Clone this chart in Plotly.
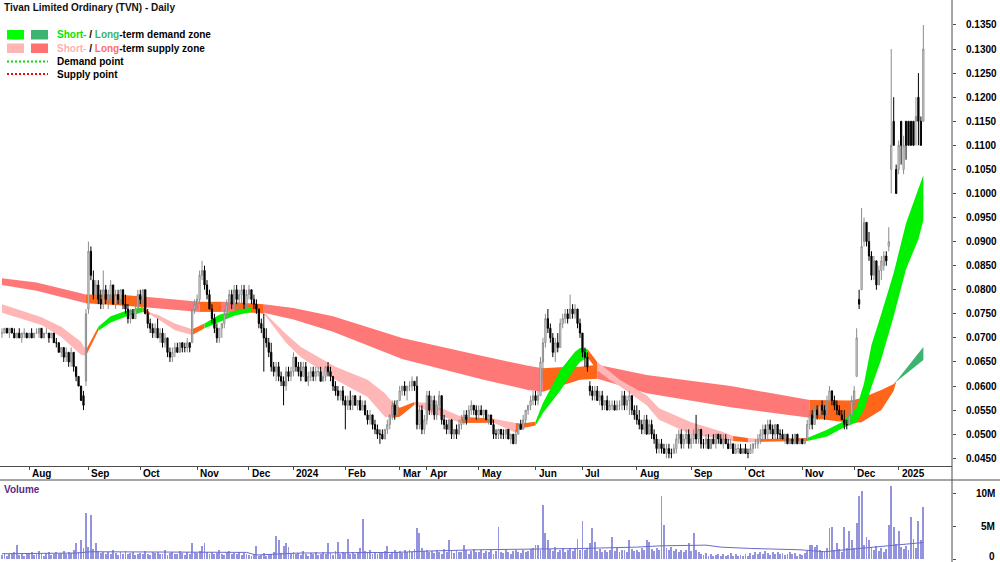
import plotly.graph_objects as go

TITLE = "Tivan Limited Ordinary (TVN) - Daily"
MONTH_LABELS = ["Aug", "Sep", "Oct", "Nov", "Dec", "2024", "Feb", "Mar", "Apr", "May",
                "Jun", "Jul", "Aug", "Sep", "Oct", "Nov", "Dec", "2025"]
PRICE_TICKS = [0.045, 0.050, 0.055, 0.060, 0.065, 0.070, 0.075, 0.080, 0.085, 0.090,
               0.095, 0.100, 0.105, 0.110, 0.115, 0.120, 0.125, 0.130, 0.135]
VOL_TICKS = [0, 5, 10]
VOL_TICK_TEXT = ["0", "5M", "10M"]

# Daily bars, (open, high, low, close) in thousandths of a dollar
JUL23 = [(71,72,70,71),(71,72,71,72),(72,72,71,71),(71,72,70,72),(72,72,71,71),(71,72,70,70),
         (70,71,70,71),(71,72,70,70),(70,71,69,71),(71,72,70,71),(71,71,70,70)]
AUG23 = [(70,71,70,71),(71,72,70,70),(70,71,70,71),(71,72,71,71),(71,72,70,72),(72,72,70,70),
         (70,71,70,71),(71,72,71,71),(71,71,69,70),(70,71,70,71),(71,71,69,69),(69,70,68,69),
         (69,69,67,67),(67,68,66,68),(68,68,65,66),(66,68,65,67),(67,67,64,65),(65,68,64,67),
         (67,67,63,64),(64,64,61,62),(62,62,60,60),(60,60,57,57),(58,59,55,56),(61,76,60,75)]
SEP23 = [(76,90,75,88),(88,89,82,83),(82,84,78,79),(79,82,77,81),(81,82,77,78),(78,80,76,77),
         (77,84,76,80),(80,81,77,78),(78,80,76,79),(79,82,78,81),(81,81,77,77),(77,80,76,79),
         (79,80,77,78),(78,80,77,80),(80,80,76,77),(77,79,75,76),(76,77,73,74),(74,76,73,75),
         (75,76,74,74),(74,77,74,76),(76,80,75,79)]
OCT23 = [(79,80,77,78),(78,80,77,80),(80,80,75,75),(75,76,72,73),(73,74,71,72),(72,73,70,71),
         (71,73,70,72),(72,74,70,70),(70,72,69,71),(71,72,68,69),(69,71,68,70),(70,70,66,67),
         (67,68,65,66),(66,68,65,67),(67,69,66,68),(68,69,67,67),(67,69,67,69),(69,69,67,68),
         (68,69,67,68),(68,70,67,69),(69,69,67,68),(69,76,69,76),(76,78,75,77)]
NOV23 = [(77,79,76,78),(78,84,77,83),(83,86,82,84),(84,85,80,81),(81,82,78,79),(79,80,76,76),
         (76,77,73,74),(74,75,71,72),(72,73,69,70),(70,72,69,72),(72,73,70,73),(73,76,72,75),
         (75,78,74,77),(77,80,76,79),(79,80,76,77),(77,81,76,80),(80,81,77,78),(78,80,76,79),
         (79,81,77,80),(80,81,76,77),(77,80,76,79)]
DEC23 = [(79,81,78,80),(80,80,77,78),(78,79,76,77),(77,78,75,76),(76,76,72,73),(73,74,71,72),
         (72,75,63,70),(70,72,68,69),(69,70,66,67),(67,69,63,64),(64,65,62,63),(63,65,61,64),
         (64,65,61,62),(62,63,60,61),(61,62,56,60),(60,64,59,63),(63,64,61,62),(62,64,61,63)]
JAN24 = [(63,67,62,66),(66,66,63,64),(64,65,62,63),(63,65,61,62),(62,65,62,64),(64,65,61,61),
         (61,63,60,62),(62,64,61,63),(63,64,61,62),(62,64,61,63),(63,64,62,63),(63,64,61,61),
         (61,63,61,62),(62,64,61,64),(64,65,62,63),(63,64,61,62),(62,62,59,60),(60,61,58,59),
         (59,60,57,58),(58,59,57,59),(59,60,56,57)]
FEB24 = [(57,58,51,56),(56,58,55,57),(57,59,55,56),(56,58,55,58),(58,58,56,56),(56,57,55,57),
         (57,58,55,55),(55,57,55,56),(56,57,54,54),(54,55,52,53),(53,55,52,54),(54,54,51,52),
         (52,53,50,51),(51,52,49,50),(50,51,48,50),(50,51,49,49),(49,51,49,51),(51,53,50,52),
         (52,54,51,54),(54,57,53,56),(56,57,53,54),(54,57,54,57)]
MAR24 = [(57,60,57,59),(59,60,58,60),(60,61,58,59),(59,60,57,60),(60,61,59,60),(60,62,59,61),
         (61,61,59,60),(60,62,51,52),(52,56,51,55),(55,56,50,51),(51,54,50,53)]
APR24 = [(53,59,52,58),(58,59,54,55),(55,58,54,57),(57,58,53,54),(54,57,53,56),(56,59,55,58),
         (58,58,52,53),(53,54,51,52),(52,53,50,51),(51,53,50,53),(53,53,49,50),(50,51,49,51),
         (51,52,49,50),(50,53,50,52),(52,54,51,53),(53,55,52,54),(54,55,52,53),(53,56,53,55),
         (55,57,54,56),(56,56,54,55),(55,56,53,54)]
MAY24 = [(54,56,53,55),(55,56,54,54),(54,55,53,55),(55,55,53,53),(53,54,52,54),(54,54,52,52),
         (52,53,49,50),(50,51,49,50),(50,51,49,51),(51,51,49,50),(50,51,49,50),(50,51,49,51),
         (51,51,49,49),(49,50,48,50),(50,50,48,48),(48,51,48,50),(50,52,50,52),(52,53,51,51),
         (51,54,51,53),(53,55,52,55),(55,56,54,56),(56,58,55,57),(57,59,56,58)]
JUN24 = [(58,59,56,57),(57,59,56,58),(58,66,58,65),(65,70,61,69),(69,75,68,74),(74,76,71,72),
         (72,73,69,70),(70,71,66,67),(67,70,65,69),(69,71,67,68),(68,74,68,73),(73,75,72,74),
         (74,76,73,75),(75,76,73,74),(74,79,74,76),(76,77,74,75),(75,77,74,76),(76,76,72,73),
         (73,74,70,71)]
JUL24 = [(71,71,66,67),(67,68,64,66),(66,67,63,64),(60,61,58,59),(59,60,57,58),(58,60,57,59),
         (59,60,57,57),(57,59,56,58),(58,59,55,56),(56,57,55,57),(57,58,55,55),(55,57,55,56),
         (56,57,55,56),(56,57,55,55),(55,57,55,56),(56,57,55,56),(56,59,55,58),(58,59,55,56),
         (56,58,55,57),(57,59,54,58),(58,58,54,55),(55,56,53,54)]
AUG24 = [(54,56,52,53),(53,55,51,52),(52,53,50,51),(51,54,50,53),(53,54,50,50),(50,53,50,52),
         (52,53,49,50),(50,51,48,49),(49,50,46,47),(47,49,46,48),(48,49,46,47),(47,48,46,46),
         (46,48,45,47),(47,48,45,46),(46,47,45,46),(46,48,46,47),(47,50,46,49),(49,51,48,50),
         (50,51,47,48),(48,50,47,49),(49,51,48,50),(50,51,47,48)]
SEP24 = [(48,50,47,49),(49,51,48,50),(50,54,48,49),(49,51,48,51),(51,51,47,48),(48,49,47,48),
         (48,50,47,49),(49,50,47,47),(47,49,47,49),(49,50,48,48),(48,50,47,50),(50,50,48,49),
         (49,50,48,48),(48,50,47,49),(49,50,48,48),(48,49,47,47),(47,49,47,48),(48,48,46,46),
         (46,48,46,47),(47,48,46,47),(47,48,46,46),(46,47,46,47)]
OCT24 = [(47,48,46,46),(46,47,45,46),(46,48,46,47),(47,48,46,48),(48,49,47,48),(48,50,47,49),
         (49,51,48,50),(50,52,49,51),(51,52,49,50),(50,53,49,52),(52,53,50,51),(51,52,49,50),
         (50,52,49,52),(52,52,49,50),(50,51,49,50),(50,51,49,49),(49,50,48,50),(50,50,48,48),
         (48,49,48,49),(49,50,48,48),(48,50,48,50),(50,50,48,48),(48,49,48,49)]
NOV24 = [(49,49,48,48),(48,49,48,49),(49,53,49,52),(52,55,51,54),(54,55,51,52),(52,56,52,55),
         (55,56,53,54),(54,57,53,56),(56,57,54,55),(55,56,53,54),(54,58,54,57),(57,60,56,59),
         (59,59,56,57),(57,58,55,56),(56,57,54,55),(55,56,54,54),(54,55,53,53),(53,55,51,52),
         (52,53,51,52),(52,55,52,54),(54,58,54,57)]
DEC24 = [(57,60,56,59),(62,72,62,70),(78,80,76,77),(80,97,80,89),(90,95,89,94),(94,94,89,90),
         (90,92,86,87),(87,88,82,83),(83,87,82,86),(86,86,80,81),(81,85,81,84),(84,87,82,86),
         (85,88,84,87),(87,88,85,86),(89,93,88,90),(105,130,100,110),(115,120,110,110),
         (105,106,100,100)]
JAN25 = [(105,111,104,110),(115,115,106,110),(105,112,104,110),(115,115,107,110),(115,115,110,110),
         (115,115,110,110),(115,115,110,110),(115,120,110,116),(120,125,110,115),(115,116,110,110),
         (115,135,115,130)]

# Daily volume, in units of 100,000 shares
VOL_JUL23 = [6, 9, 5, 8, 7, 11, 21, 6, 8, 5, 9]
VOL_AUG23 = [7, 10, 6, 8, 12, 7, 5, 9, 11, 6, 8, 10, 7, 9, 12, 8, 11, 9, 14, 24, 10, 29, 16, 70]
VOL_SEP23 = [18, 67, 15, 24, 12, 9, 11, 8, 10, 7, 13, 9, 6, 10, 8, 12, 7, 9, 11, 6, 8]
VOL_OCT23 = [9, 7, 12, 8, 6, 10, 9, 11, 7, 8, 13, 6, 9, 10, 7, 8, 12, 9, 6, 11, 8, 25, 10]
VOL_NOV23 = [9, 12, 20, 24, 10, 8, 11, 7, 9, 13, 8, 6, 10, 12, 7, 9, 8, 11, 6, 9, 7]
VOL_DEC23 = [6, 5, 7, 20, 4, 6, 9, 5, 8, 7, 11, 35, 29, 9, 20, 24, 18, 8]
VOL_JAN24 = [10, 7, 9, 6, 12, 8, 5, 9, 7, 11, 6, 8, 10, 7, 24, 9, 6, 12, 26, 8, 10]
VOL_FEB24 = [9, 30, 8, 11, 7, 10, 16, 60, 12, 9, 13, 8, 11, 7, 10, 9, 12, 20, 8, 11, 13, 10]
VOL_MAR24 = [12, 9, 14, 10, 13, 11, 15, 47, 39, 16, 12]
VOL_APR24 = [14, 10, 12, 9, 13, 11, 8, 15, 10, 29, 12, 9, 14, 11, 10, 21, 13, 8, 12, 15, 10]
VOL_MAY24 = [11, 14, 9, 12, 10, 13, 8, 12, 49, 11, 9, 13, 10, 8, 12, 14, 11, 9, 13, 10, 12, 15, 16]
VOL_JUN24 = [21, 21, 13, 82, 39, 29, 15, 12, 18, 11, 14, 16, 10, 13, 17, 12, 15, 30, 14]
VOL_JUL24 = [57, 13, 16, 24, 47, 26, 12, 15, 11, 14, 10, 13, 34, 12, 16, 11, 14, 13, 10, 29, 15, 12]
VOL_AUG24 = [14, 11, 16, 13, 29, 26, 15, 12, 17, 14, 95, 52, 16, 13, 18, 12, 15, 11, 14, 10, 13, 25]
VOL_SEP24 = [12, 39, 14, 10, 8, 6, 9, 5, 7, 4, 6, 8, 5, 7, 4, 6, 9, 5, 7, 4, 6, 5]
VOL_OCT24 = [7, 5, 9, 6, 11, 8, 10, 7, 12, 9, 6, 10, 8, 11, 7, 9, 6, 8, 10, 7, 9, 5, 8]
VOL_NOV24 = [6, 9, 12, 21, 21, 18, 21, 14, 10, 12, 16, 47, 49, 13, 24, 15, 11, 49, 17, 42, 29]
VOL_DEC24 = [16, 54, 95, 103, 21, 34, 29, 18, 14, 20, 12, 16, 11, 15, 52, 110, 49, 22]
VOL_JAN25 = [42, 18, 15, 20, 13, 64, 30, 16, 57, 29, 79]

# Volume average line: (bar index, 100,000 shares)
VOL_AVG = [(0, 8), (30, 9), (36, 11), (60, 11), (80, 10), (99, 10), (103, 6), (108, 7), (120, 9),
           (160, 10), (172, 12), (193, 14), (216, 15), (235, 16), (257, 18), (267, 20), (285, 21),
           (291, 18), (303, 16), (323, 14), (333, 11), (339, 13), (347, 16), (355, 18), (361, 21),
           (373, 25)]

# Long-term zone edges: (bar index, upper, lower) in thousandths
LONG_ZONE = [(0, 82.4, 81.0), (14, 81.5, 79.8), (34, 79.0, 77.2), (47, 79.0, 76.8), (59, 78.5, 76.3),
             (80, 77.5, 75.4), (89, 77.5, 75.4), (94, 77.4, 75.3), (106, 77.0, 75.2), (118, 76.2, 73.8),
             (134, 74.5, 71.3), (162, 70.0, 65.6), (195, 66.2, 61.3), (213, 64.2, 59.2), (219, 63.7, 58.8),
             (226, 63.9, 60.0), (234, 64.0, 61.3), (241, 64.4, 61.5), (261, 62.3, 58.5), (295, 60.0, 55.6),
             (327, 57.1, 53.4), (344, 57.0, 52.3), (348, 57.5, 52.5), (356, 59.2, 55.0), (361, 60.4, 59.0),
             (362, 61.0, 60.9), (373, 68.1, 65.4)]
LONG_COLOURS = [(0, 34, "supply"), (34, 59, "mixed"), (59, 80, "supply"), (80, 89, "mixed"),
                (89, 94, "supply"), (94, 106, "mixed"), (106, 219, "supply"), (219, 241, "mixed"),
                (241, 327, "supply"), (327, 362, "mixed"), (362, 373, "demand")]

# Short-term zone edges: (bar index, upper, lower) in thousandths
SHORT_ZONE = [(0, 77.0, 75.2), (16, 74.3, 72.7), (24, 72.3, 70.2), (32, 69.2, 66.5), (34, 67.5, 66.3),
              (39, 72.3, 71.5), (44, 74.5, 73.2), (50, 75.6, 74.4), (57, 76.4, 75.4), (60, 75.2, 74.8),
              (63, 74.8, 74.0), (70, 73.0, 71.6), (77, 71.8, 70.6), (82, 73.0, 72.0), (88, 74.8, 73.3),
              (94, 75.6, 74.6), (101, 76.4, 75.4), (106, 75.4, 75.0), (115, 70.8, 69.0), (121, 68.1, 66.0),
              (135, 64.0, 61.3), (148, 61.3, 57.7), (155, 58.5, 53.6), (158, 56.7, 53.4), (161, 55.5, 53.6),
              (167, 56.7, 56.1), (173, 56.5, 54.6), (186, 53.6, 52.3), (199, 53.2, 52.4), (208, 52.3, 50.3),
              (210, 52.2, 51.2), (216, 52.6, 51.8), (219, 56.5, 54.4), (226, 63.3, 59.0), (232, 67.1, 63.7),
              (234, 67.9, 65.0), (237, 67.7, 66.0), (241, 65.0, 63.3), (246, 63.0, 61.3), (250, 61.3, 60.0),
              (261, 58.1, 56.0), (266, 55.4, 53.0), (279, 52.5, 50.0), (291, 50.6, 49.0), (296, 49.6, 48.6),
              (302, 49.2, 48.3), (307, 49.0, 48.4), (326, 49.2, 48.6), (334, 50.9, 49.5), (340, 52.5, 51.2),
              (346, 55.5, 52.5), (349, 60.6, 55.0), (352, 68.5, 59.8), (356, 75.0, 65.6), (361, 83.5, 74.5),
              (366, 93.8, 84.3), (371, 101.0, 90.5), (373, 103.8, 94.5)]
SHORT_COLOURS = [(0, 34, "supply"), (34, 39, "mixed"), (39, 57, "demand"), (57, 60, "mixed"),
                 (60, 77, "supply"), (77, 82, "mixed"), (82, 101, "demand"), (101, 106, "mixed"),
                 (106, 158, "supply"), (158, 167, "mixed"), (167, 186, "supply"), (186, 199, "mixed"),
                 (199, 208, "supply"), (208, 216, "mixed"), (216, 237, "demand"), (237, 241, "mixed"),
                 (241, 296, "supply"), (296, 302, "mixed"), (302, 307, "supply"), (307, 326, "mixed"),
                 (326, 373, "demand")]

LONG_FILL = {"supply": "#FF7878", "mixed": "#FF661A", "demand": "#3CB371"}
SHORT_FILL = {"supply": "#FFB6B6", "mixed": "#FF661A", "demand": "#00F000"}

MONTHS = [JUL23, AUG23, SEP23, OCT23, NOV23, DEC23, JAN24, FEB24, MAR24, APR24, MAY24, JUN24,
          JUL24, AUG24, SEP24, OCT24, NOV24, DEC24, JAN25]
VOL_MONTHS = [VOL_JUL23, VOL_AUG23, VOL_SEP23, VOL_OCT23, VOL_NOV23, VOL_DEC23, VOL_JAN24,
              VOL_FEB24, VOL_MAR24, VOL_APR24, VOL_MAY24, VOL_JUN24, VOL_JUL24, VOL_AUG24,
              VOL_SEP24, VOL_OCT24, VOL_NOV24, VOL_DEC24, VOL_JAN25]

bars = [b for m in MONTHS for b in m]
vols = [v / 10 for m in VOL_MONTHS for v in m]
n = len(bars)
idx = list(range(n))
month_starts = []
pos = 0
for m in MONTHS[:-1]:
    pos += len(m)
    month_starts.append(pos)

W, H = 1000, 562
FONT = "Liberation Sans, Arial, sans-serif"

def py(px):
    return 1 - px / H

fig = go.Figure()

fig.add_trace(go.Candlestick(
    x=idx,
    open=[b[0] / 1000 for b in bars], high=[b[1] / 1000 for b in bars],
    low=[b[2] / 1000 for b in bars], close=[b[3] / 1000 for b in bars],
    increasing=dict(line=dict(color="#8C8C8C", width=1), fillcolor="#FFFFFF"),
    decreasing=dict(line=dict(color="#000000", width=1), fillcolor="#000000"),
    whiskerwidth=0, xaxis="x", yaxis="y", showlegend=False, hoverinfo="skip"))

fig.add_trace(go.Bar(x=idx, y=vols, width=0.36, marker=dict(color="#9494DE", line=dict(width=0)),
                     xaxis="x2", yaxis="y2", showlegend=False, hoverinfo="skip"))
fig.add_trace(go.Scatter(x=[p[0] for p in VOL_AVG], y=[p[1] / 10 for p in VOL_AVG], mode="lines",
                         line=dict(color="#6A6AD0", width=1), xaxis="x2", yaxis="y2",
                         showlegend=False, hoverinfo="skip"))

shapes = []

def add_zone(samples, segments, fills):
    for s, e, key in segments:
        pts = [p for p in samples if s <= p[0] <= e]
        ring = [(p[0], p[1] / 1000) for p in pts] + [(p[0], p[2] / 1000) for p in reversed(pts)]
        path = "M " + " L ".join(f"{x},{y}" for x, y in ring) + " Z"
        shapes.append(dict(type="path", path=path, xref="x", yref="y", fillcolor=fills[key],
                           line=dict(width=0, color="rgba(0,0,0,0)"), layer="below"))

add_zone(LONG_ZONE, LONG_COLOURS, LONG_FILL)
add_zone(SHORT_ZONE, SHORT_COLOURS, SHORT_FILL)

AXIS_COL = "#4D4D4D"
# frame lines
shapes.append(dict(type="line", xref="paper", yref="paper", x0=0.952, x1=0.952, y0=0, y1=1,
                   line=dict(color=AXIS_COL, width=1)))
shapes.append(dict(type="line", xref="paper", yref="paper", x0=0, x1=1, y0=py(480), y1=py(480),
                   line=dict(color=AXIS_COL, width=1)))

# legend swatches
shapes += [
    dict(type="rect", xref="paper", yref="paper", x0=7 / W, x1=24 / W, y0=py(39.5), y1=py(30),
         fillcolor="#00FF00", line=dict(width=0)),
    dict(type="rect", xref="paper", yref="paper", x0=31 / W, x1=48 / W, y0=py(39.5), y1=py(30),
         fillcolor="#3CB371", line=dict(width=0)),
    dict(type="rect", xref="paper", yref="paper", x0=7 / W, x1=24 / W, y0=py(53), y1=py(43.5),
         fillcolor="#FFB6B6", line=dict(width=0)),
    dict(type="rect", xref="paper", yref="paper", x0=31 / W, x1=48 / W, y0=py(53), y1=py(43.5),
         fillcolor="#FF7070", line=dict(width=0)),
    dict(type="line", xref="paper", yref="paper", x0=7 / W, x1=48 / W, y0=py(61.5), y1=py(61.5),
         line=dict(color="#00E000", width=2, dash="2px,2px")),
    dict(type="line", xref="paper", yref="paper", x0=7 / W, x1=48 / W, y0=py(74), y1=py(74),
         line=dict(color="#FF0000", width=2, dash="2px,2px")),
]

annotations = []

def txt(x, y, text, color="#000000", anchor="left", xref="paper", yref="paper", size=10,
        xshift=0, yshift=0):
    annotations.append(dict(x=x, y=y, xref=xref, yref=yref, text=text, showarrow=False,
                            xanchor=anchor, yanchor="middle", xshift=xshift, yshift=yshift,
                            font=dict(family=FONT, size=size, color=color)))

txt(2 / W, py(7), "<b>" + TITLE + "</b>", "#111111")
txt(55 / W, py(34.5), "<b><span style='color:#00E600'>Short-</span> / "
    "<span style='color:#3CB371'>Long</span>-term demand zone</b>")
txt(55 / W, py(48.5), "<b><span style='color:#FFB0B0'>Short-</span> / "
    "<span style='color:#FF6E6E'>Long</span>-term supply zone</b>")
txt(55 / W, py(61.5), "<b>Demand point</b>")
txt(55 / W, py(74), "<b>Supply point</b>")
txt(2 / W, py(489), "<b>Volume</b>", "#5B2A86")

for ms, lab in zip(month_starts, MONTH_LABELS):
    txt(ms, py(473.5), "<b>" + lab + "</b>", xref="x", xshift=1)

for v, t in zip(VOL_TICKS, VOL_TICK_TEXT):
    txt(997 / W, v, "<b>" + t + "</b>", anchor="right", yref="y2", yshift=(3 if v == 0 else 0))

x_range = [-0.8, 384.6]
fig.update_layout(
    width=W, height=H, margin=dict(l=0, r=0, t=0, b=0, pad=0),
    paper_bgcolor="#FFFFFF", plot_bgcolor="#FFFFFF", showlegend=False,
    shapes=shapes, annotations=annotations, bargap=0,
    xaxis=dict(domain=[0, 0.952], range=x_range, anchor="y", showgrid=False, zeroline=False,
               showline=True, linecolor=AXIS_COL, linewidth=1, ticks="outside", ticklen=3,
               tickcolor=AXIS_COL, tickvals=month_starts, showticklabels=False,
               rangeslider=dict(visible=False), fixedrange=True),
    yaxis=dict(domain=[py(466), 1], range=[0.04339, 0.14019], anchor="x", side="right",
               showgrid=False, zeroline=False, showline=False, ticks="outside", ticklen=3,
               tickcolor=AXIS_COL, tickvals=PRICE_TICKS, tickformat=".4f",
               tickfont=dict(family=FONT, size=10, color="#000000", weight="bold"),
               ticklabelstandoff=8, fixedrange=True),
    xaxis2=dict(domain=[0, 0.952], range=x_range, anchor="y2", showgrid=False, zeroline=False,
                showline=False, showticklabels=False, ticks="", fixedrange=True),
    yaxis2=dict(domain=[0, py(480)], range=[-0.4545, 11.97], anchor="x2", side="right",
                showgrid=False, zeroline=False, showline=False, ticks="outside", ticklen=3,
                tickcolor=AXIS_COL, tickvals=VOL_TICKS, showticklabels=False, fixedrange=True),
)

fig.write_html("out.html", config={"displayModeBar": False})
